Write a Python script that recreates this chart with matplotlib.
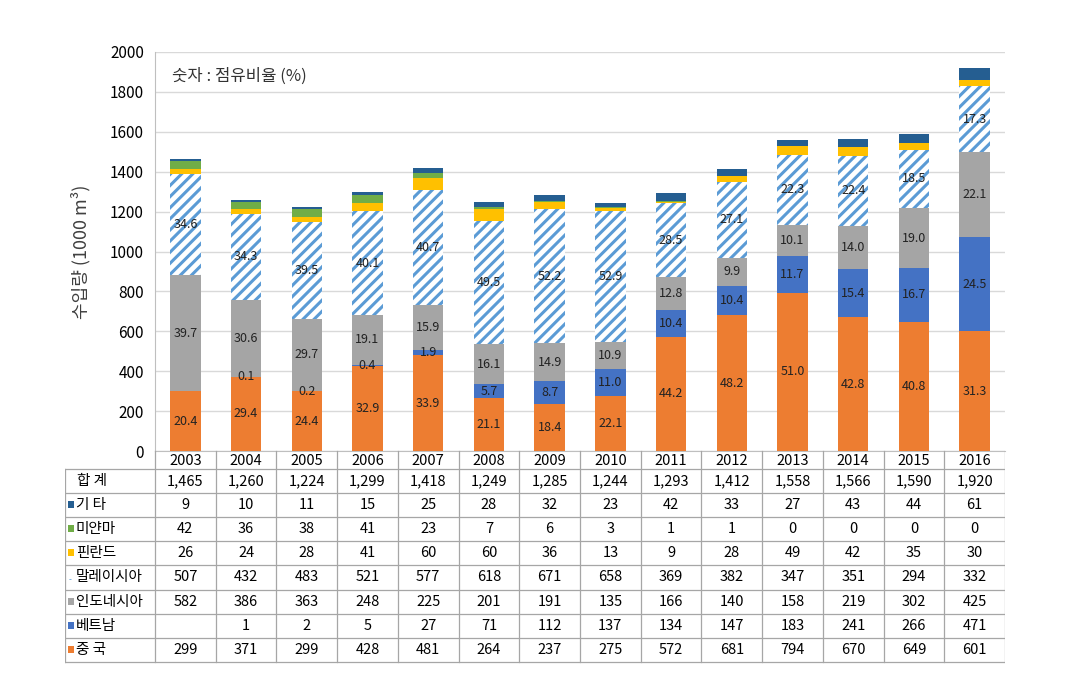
import matplotlib.pyplot as plt
import matplotlib.patches as mpatches
import numpy as np

plt.rcParams['font.family'] = ['Noto Sans CJK KR', 'DejaVu Sans']
plt.rcParams['hatch.linewidth'] = 2.2

years = ['2003', '2004', '2005', '2006', '2007', '2008', '2009',
         '2010', '2011', '2012', '2013', '2014', '2015', '2016']
total = ['1,465', '1,260', '1,224', '1,299', '1,418', '1,249', '1,285',
         '1,244', '1,293', '1,412', '1,558', '1,566', '1,590', '1,920']

china = [299, 371, 299, 428, 481, 264, 237, 275, 572, 681, 794, 670, 649, 601]
vietnam = [0, 1, 2, 5, 27, 71, 112, 137, 134, 147, 183, 241, 266, 471]
indonesia = [582, 386, 363, 248, 225, 201, 191, 135, 166, 140, 158, 219, 302, 425]
malaysia = [507, 432, 483, 521, 577, 618, 671, 658, 369, 382, 347, 351, 294, 332]
finland = [26, 24, 28, 41, 60, 60, 36, 13, 9, 28, 49, 42, 35, 30]
myanmar = [42, 36, 38, 41, 23, 7, 6, 3, 1, 1, 0, 0, 0, 0]
others = [9, 10, 11, 15, 25, 28, 32, 23, 42, 33, 27, 43, 44, 61]

# share labels shown inside the bars (%)
china_pct = ['20.4', '29.4', '24.4', '32.9', '33.9', '21.1', '18.4',
             '22.1', '44.2', '48.2', '51.0', '42.8', '40.8', '31.3']
vietnam_pct = ['', '0.1', '0.2', '0.4', '1.9', '5.7', '8.7',
               '11.0', '10.4', '10.4', '11.7', '15.4', '16.7', '24.5']
indonesia_pct = ['39.7', '30.6', '29.7', '19.1', '15.9', '16.1', '14.9',
                 '10.9', '12.8', '9.9', '10.1', '14.0', '19.0', '22.1']
malaysia_pct = ['34.6', '34.3', '39.5', '40.1', '40.7', '49.5', '52.2',
                '52.9', '28.5', '27.1', '22.3', '22.4', '18.5', '17.3']

series = [
    ('중 국', china, '#ED7D31', None),
    ('베트남', vietnam, '#4472C4', None),
    ('인도네시아', indonesia, '#A5A5A5', None),
    ('말레이시아', malaysia, 'white', '#5B9BD5'),
    ('핀란드', finland, '#FFC000', None),
    ('미얀마', myanmar, '#70AD47', None),
    ('기 타', others, '#255E91', None),
]
labels = [china_pct, vietnam_pct, indonesia_pct, malaysia_pct]

fig = plt.figure(figsize=(10.82, 6.97), dpi=100)
W, H = 1082, 697
ax_l, ax_r, ax_t, ax_b = 155, 1005, 52, 451
ax = fig.add_axes([ax_l / W, 1 - ax_b / H, (ax_r - ax_l) / W, (ax_b - ax_t) / H])

x = np.arange(len(years))
bottom = np.zeros(len(years))
for i, (name, vals, col, hcol) in enumerate(series):
    vals = np.array(vals, dtype=float)
    if hcol:
        ax.bar(x, vals, 0.5, bottom=bottom, color=col, edgecolor=hcol,
               hatch='///', linewidth=0, zorder=3)
    else:
        ax.bar(x, vals, 0.5, bottom=bottom, color=col, linewidth=0, zorder=3)
    if i < len(labels):
        for xi, (b, v, t) in enumerate(zip(bottom, vals, labels[i])):
            if t:
                ax.text(xi, b + v / 2, t, ha='center', va='center',
                        fontsize=9, color='#222222', zorder=5)
    bottom += vals

ax.set_xlim(-0.5, len(years) - 0.5)
ax.set_ylim(0, 2000)
ax.set_yticks(range(0, 2001, 200))
ax.tick_params(axis='y', labelsize=11, length=0, pad=8)
ax.set_xticks([])
ax.grid(axis='y', color='#D9D9D9', linewidth=1, zorder=0)
for s in ['top', 'right']:
    ax.spines[s].set_visible(False)
ax.spines['left'].set_color('#BFBFBF')
ax.spines['bottom'].set_color('#BFBFBF')
ax.set_ylabel('수입량 (1000 m³)', fontsize=13, color='#404040', labelpad=14)
ax.text(0.02, 0.94, '숫자 : 점유비율 (%)', transform=ax.transAxes,
        fontsize=12, color='#333333', va='center')

# data table below the chart
col_w = (ax_r - ax_l) / len(years)
left_w = ax_l - 65
tb_top, hdr_bot, row_h = ax_b, 469, 24.1
tab = fig.add_axes([65 / W, 0, (ax_r - 65) / W, 1])
tab.set_xlim(-0.5 - left_w / col_w, len(years) - 0.5)
tab.set_ylim(H, 0)
tab.axis('off')

row_names = ['합 계', '기 타', '미얀마', '핀란드', '말레이시아', '인도네시아', '베트남', '중 국']
row_vals = [total, others, myanmar, finland, malaysia, indonesia, vietnam, china]
row_cols = [None, '#255E91', '#70AD47', '#FFC000', 'hatch', '#A5A5A5', '#4472C4', '#ED7D31']
n_rows = len(row_names)
tab_bot = hdr_bot + row_h * n_rows
x_left = -0.5 - left_w / col_w
lc = '#A6A6A6'

for xi, yr in enumerate(years):
    tab.text(xi, (tb_top + hdr_bot) / 2 + 1, yr, ha='center', va='center', fontsize=10.5)
for k in range(len(years) + 1):
    tab.plot([k - 0.5, k - 0.5], [tb_top, tab_bot], color=lc, lw=0.9)
tab.plot([x_left, x_left], [hdr_bot, tab_bot], color=lc, lw=0.9)
for r in range(n_rows + 1):
    yy = hdr_bot + r * row_h
    tab.plot([x_left, len(years) - 0.5], [yy, yy], color=lc, lw=0.9)

for r, (nm, vals, c) in enumerate(zip(row_names, row_vals, row_cols)):
    yc = hdr_bot + (r + 0.5) * row_h
    if c is None:
        tab.text(x_left + 0.2, yc, nm, ha='left', va='center', fontsize=10.5)
    else:
        if c == 'hatch':
            tab.text(x_left + 0.06, yc + 2, '-', ha='left', va='center',
                     fontsize=6, color='#5B9BD5')
        else:
            tab.add_patch(mpatches.Rectangle((x_left + 0.05, yc - 4), 0.1, 7,
                                             color=c, lw=0))
        tab.text(x_left + 0.18, yc, nm, ha='left', va='center', fontsize=10.5)
    for xi, v in enumerate(vals):
        if r == 6 and v == 0:
            continue
        tab.text(xi, yc, str(v), ha='center', va='center', fontsize=10.5)

fig.savefig('out.png', dpi=100)
